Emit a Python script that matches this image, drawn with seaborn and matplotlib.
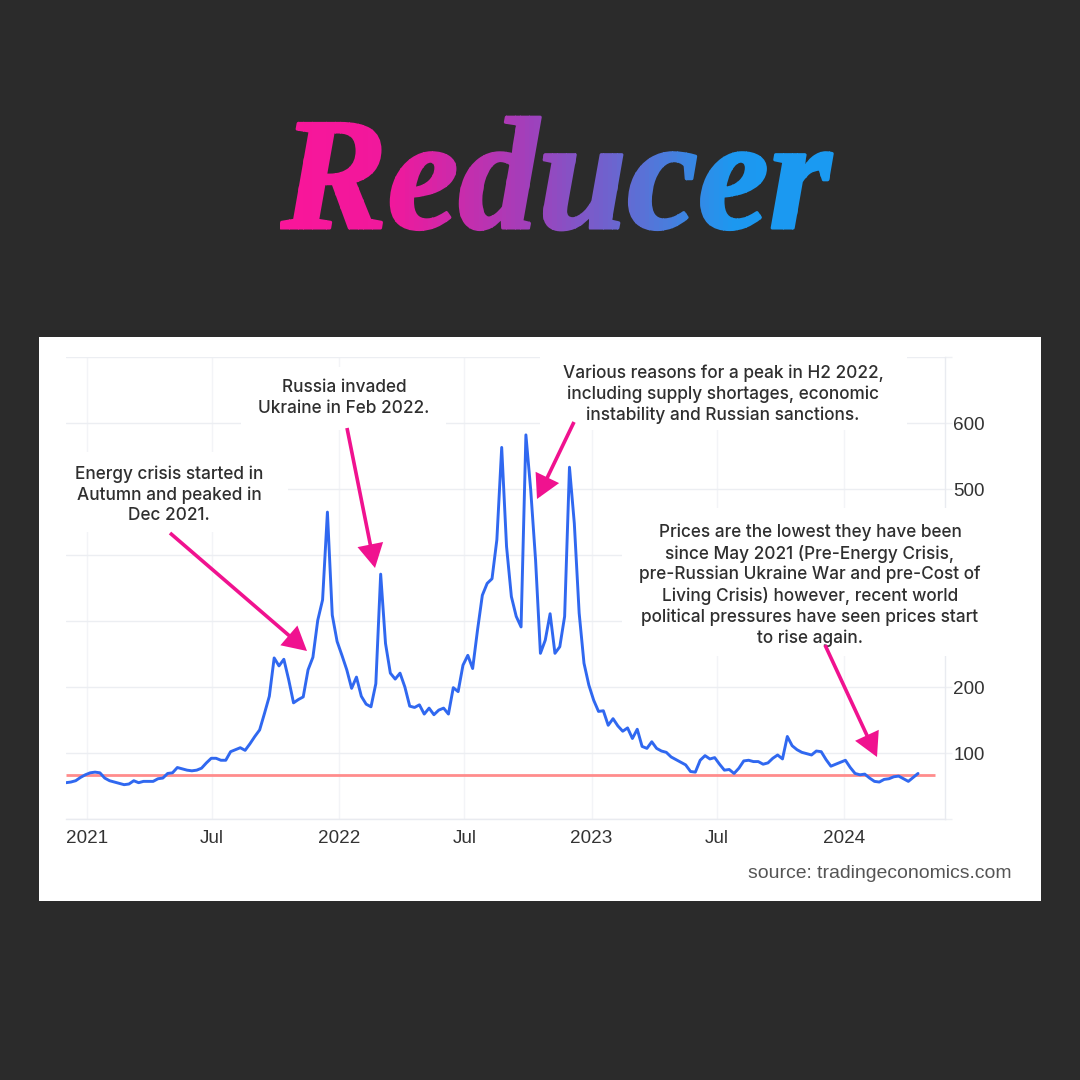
import pandas as pd
import numpy as np
import matplotlib
matplotlib.use('Agg')
import matplotlib.pyplot as plt
import matplotlib.dates as mdates
import seaborn as sns
from matplotlib.colors import LinearSegmentedColormap
from matplotlib.patches import Rectangle, FancyArrowPatch
from matplotlib.patheffects import AbstractPathEffect
from matplotlib.transforms import Bbox

# Weekly gas price
first_week = '2020-12-02'
prices = [
    55, 56, 58, 63, 67, 70, 71, 70, 62, 58, 56, 54, 52, 53, 58, 55, 57, 57, 57, 61,
    62, 69, 70, 78, 76, 74, 73, 74, 77, 85, 92, 92, 89, 89, 102, 105, 108, 104, 114, 125,
    135, 160, 186, 244, 232, 242, 211, 176, 181, 185, 226, 245, 301, 332, 465, 309, 269, 248, 226, 198,
    215, 186, 174, 170, 205, 371, 266, 221, 212, 221, 200, 171, 169, 173, 159, 168, 158, 165, 168, 159,
    199, 193, 233, 248, 228, 286, 339, 357, 364, 423, 563, 413, 337, 307, 291, 582, 498, 392, 251, 271,
    311, 251, 261, 307, 533, 448, 312, 236, 203, 180, 163, 164, 142, 152, 141, 133, 138, 122, 136, 110,
    107, 117, 107, 103, 101, 94, 90, 86, 82, 72, 71, 89, 96, 91, 93, 83, 74, 75, 69, 77,
    88, 89, 87, 87, 83, 85, 92, 97, 91, 125, 111, 105, 101, 99, 97, 103, 102, 90, 80, 83,
    86, 89, 78, 69, 67, 68, 62, 57, 56, 60, 61, 64, 65, 61, 57, 63, 69,
]
reference_price = 67
reference_dates = ['2020-12-02', '2024-05-12']
tick_dates = ['2021-01-01', '2021-07-01', '2022-01-01', '2022-07-01', '2023-01-01', '2023-07-01', '2024-01-01']
tick_labels = ['2021', 'Jul', '2022', 'Jul', '2023', 'Jul', '2024']
price_ticks = [0, 100, 200, 300, 400, 500, 600, 700]
# 300 and 400 are hidden behind a note in the original
price_labels = ['', '100', '200', '', '', '500', '600', '']

note_energy = 'Energy crisis started in\nAutumn and peaked in\nDec 2021.'
note_russia = 'Russia invaded\nUkraine in Feb 2022.'
note_h2 = 'Various reasons for a peak in H2 2022,\nincluding supply shortages, economic\ninstability and Russian sanctions.'
note_low = ('Prices are the lowest they have been\nsince May 2021 (Pre-Energy Crisis,\n'
            'pre-Russian Ukraine War and pre-Cost of\nLiving Crisis) however, recent world\n'
            'political pressures have seen prices start\nto rise again.')

df = pd.DataFrame({'date': pd.date_range(first_week, periods=len(prices), freq='7D'), 'price': prices})

BG = '#2b2b2b'
PINK = '#f0128f'
GRID = '#eff0f4'


def fx(px):
    return px / 1080


def fy(py):
    return 1 - py / 1080


class GradientFill(AbstractPathEffect):
    # paints the text path in thin vertical slices so the word stays one text object
    def __init__(self, cmap, x0, x1, slices=120, stroke=2.2):
        super().__init__()
        self.cmap, self.x0, self.x1, self.slices, self.stroke = cmap, x0, x1, slices, stroke

    def draw_path(self, renderer, gc, tpath, affine, rgbFace=None):
        edges = np.linspace(self.x0, self.x1, self.slices + 1)
        for i in range(self.slices):
            colour = self.cmap(i / (self.slices - 1))
            gc0 = renderer.new_gc()
            gc0.copy_properties(gc)
            gc0.set_clip_rectangle(Bbox([[edges[i], 0], [edges[i + 1] + 0.5, 1080]]))
            gc0.set_foreground(colour)
            gc0.set_linewidth(self.stroke)
            renderer.draw_path(gc0, tpath, affine, colour)
            gc0.restore()


sns.set_theme(style='whitegrid')
fig = plt.figure(figsize=(10.8, 10.8), dpi=100, facecolor=BG)

# white card behind the chart
fig.add_artist(Rectangle((fx(39), fy(901)), fx(1002), 564 / 1080, transform=fig.transFigure,
                         facecolor='white', edgecolor='none', zorder=-1))

ax = fig.add_axes([fx(66), fy(819), fx(879), 462 / 1080], facecolor='white')
sns.lineplot(data=df, x='date', y='price', ax=ax, color='#3068f0', linewidth=2.1, zorder=3)
ax.hlines(reference_price, pd.Timestamp(reference_dates[0]), pd.Timestamp(reference_dates[1]),
          color='#ff8c8c', linewidth=2, zorder=2.5)

ax.set_xlim(pd.Timestamp('2020-12-02'), pd.Timestamp('2024-05-26'))
ax.set_ylim(0, 700)
ax.set_xticks([mdates.date2num(pd.Timestamp(d)) for d in tick_dates])
ax.set_xticklabels(tick_labels)
ax.yaxis.tick_right()
ax.set_yticks(price_ticks)
ax.set_yticklabels(price_labels)
ax.set_xlabel('')
ax.set_ylabel('')
ax.set_axisbelow(True)
ax.grid(True, axis='y', color='#eceef2', linewidth=1)
ax.grid(True, axis='x', color='#f3f4f7', linewidth=1)
for name, spine in ax.spines.items():
    spine.set_visible(name in ('right', 'bottom'))
    spine.set_color('#e9ebf0')
    spine.set_linewidth(1)
    spine.set_zorder(0.6)
ax.tick_params(axis='x', length=0, pad=8, labelsize=13.6, labelcolor='#333333')
ax.tick_params(axis='y', length=5, width=1, color=GRID, pad=1, labelsize=13.6, labelcolor='#333333')
for lab in ax.get_xticklabels() + ax.get_yticklabels():
    lab.set_fontfamily('Liberation Sans')

# white boxes behind the notes hide the grid, as in the original
for left, top, right, bottom in [(66, 452, 288, 532), (241, 367, 446, 430),
                                 (540, 350, 907, 430), (622, 508, 995, 656)]:
    ax.add_patch(Rectangle((fx(left), fy(bottom)), fx(right - left), (bottom - top) / 1080,
                           transform=fig.transFigure, facecolor='white', edgecolor='none',
                           clip_on=False, zorder=1))

# notes
for txt, cx, top in [(note_energy, 169, 473), (note_russia, 344, 387), (note_h2, 723, 372), (note_low, 810, 531)]:
    fig.text(fx(cx), fy(top - 7.5), txt, ha='center', va='top', fontfamily='Inter', fontweight='medium',
             fontsize=12.4, color='#2f2f2f', linespacing=1.25)

# arrows
for tail, tip in [((170, 533), (307, 651)), ((347, 428), (375, 568)),
                  ((574, 422), (537, 499)), ((825, 645), (877, 757))]:
    fig.add_artist(FancyArrowPatch((fx(tail[0]), fy(tail[1])), (fx(tip[0]), fy(tip[1])),
                                   transform=fig.transFigure, arrowstyle='-|>,head_length=0.55,head_width=0.3',
                                   mutation_scale=24, color=PINK, linewidth=2.6, shrinkA=0, shrinkB=0,
                                   joinstyle='miter', capstyle='butt', zorder=5))

fig.text(fx(1011), fy(874), 'source: tradingeconomics.com', ha='right', va='center',
         fontfamily='Liberation Sans', fontsize=13.95, color='#555555')

# title with the pink to blue gradient
cmap = LinearSegmentedColormap.from_list('reducer', [(0, '#f9169a'), (0.2, '#f0189c'), (0.45, '#a040bb'),
                                                     (0.7, '#4a7cdc'), (0.82, '#1c98f0'), (1, '#1a9af2')])
title = fig.text(fx(556), fy(228), 'Reducer', ha='center', va='baseline', fontfamily='Liberation Serif',
                 fontweight='bold', fontstyle='italic', fontsize=115, color='#f9169a')
title.set_path_effects([GradientFill(cmap, 280, 834)])

plt.savefig('out.png', dpi=100, facecolor=BG)
